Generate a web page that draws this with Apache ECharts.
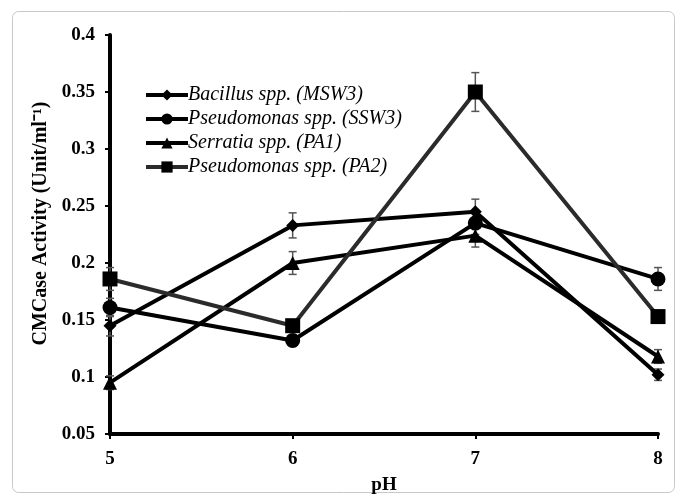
<!DOCTYPE html>
<html>
<head>
<meta charset="utf-8">
<script src="https://cdn.jsdelivr.net/npm/echarts@6/dist/echarts.min.js"></script>
<style>
  html, body { margin: 0; padding: 0; background: #fff; }
  #chart { width: 681px; height: 498px; }
</style>
</head>
<body>
<div id="chart"></div>
<script>
// pH values on the x axis
var phValues = [5, 6, 7, 8]
var yTicks = [0.05, 0.1, 0.15, 0.2, 0.25, 0.3, 0.35, 0.4]

// CMCase activity
var bacillus = [0.145, 0.233, 0.245, 0.102]
var pseudoSSW3 = [0.161, 0.132, 0.235, 0.186]
var serratia = [0.095, 0.2, 0.224, 0.118]
var pseudoPA2 = [0.186, 0.145, 0.35, 0.153]

// error bar half-widths
var bacillusErr = [0.009, 0.011, 0.011, 0.005]
var pseudoSSW3Err = [0.008, 0.005, 0.01, 0.01]
var serratiaErr = [0.006, 0.01, 0.01, 0.006]
var pseudoPA2Err = [0.01, 0.005, 0.017, 0.005]

var seriesNames = [
  'Bacillus spp. (MSW3)',
  'Pseudomonas spp. (SSW3)',
  'Serratia spp. (PA1)',
  'Pseudomonas spp. (PA2)'
]
var seriesValues = [bacillus, pseudoSSW3, serratia, pseudoPA2]
var seriesErrors = [bacillusErr, pseudoSSW3Err, serratiaErr, pseudoPA2Err]
var symbols = ['diamond', 'circle', 'triangle', 'rect']
var symbolSizes = [13, 15, 14, 15]
var lineColors = ['#000', '#000', '#000', '#2b2b2b']

var font = '"Liberation Serif", "Times New Roman", serif'

var myChart = echarts.init(document.getElementById('chart'))

var series = []
seriesValues.forEach(function (vals, i) {
  var errData = vals.map(function (v, j) {
    return [phValues[j], v - seriesErrors[i][j], v + seriesErrors[i][j]]
  })
  // 误差线
  series.push({
    type: 'custom',
    name: seriesNames[i] + ' err',
    silent: true,
    z: 1,
    data: errData,
    renderItem: function (params, api) {
      var lo = api.coord([api.value(0), api.value(1)])
      var hi = api.coord([api.value(0), api.value(2)])
      var w = 4
      var style = { stroke: '#555', lineWidth: 1.5 }
      return {
        type: 'group',
        children: [
          { type: 'line', shape: { x1: lo[0], y1: lo[1], x2: hi[0], y2: hi[1] }, style: style },
          { type: 'line', shape: { x1: lo[0] - w, y1: lo[1], x2: lo[0] + w, y2: lo[1] }, style: style },
          { type: 'line', shape: { x1: hi[0] - w, y1: hi[1], x2: hi[0] + w, y2: hi[1] }, style: style }
        ]
      }
    }
  })
  series.push({
    type: 'line',
    name: seriesNames[i],
    z: 2,
    data: vals.map(function (v, j) { return [phValues[j], v] }),
    symbol: symbols[i],
    symbolSize: symbolSizes[i],
    showAllSymbol: true,
    lineStyle: { color: lineColors[i], width: 4 },
    itemStyle: { color: '#000', opacity: 1 }
  })
})

myChart.setOption({
  animation: false,
  graphic: [{
    type: 'rect',
    left: 10,
    top: 9,
    shape: { width: 662, height: 481, r: 6 },
    style: { fill: 'none', stroke: '#c8c8c8', lineWidth: 1 },
    z: -1
  }],
  grid: { left: 110, right: 23, top: 35, bottom: 64, outerBoundsMode: 'none' },
  legend: {
    data: seriesNames,
    orient: 'vertical',
    left: 139,
    top: 80,
    itemWidth: 42,
    itemHeight: 14,
    itemGap: 4,
    lineStyle: { width: 4 },
    textStyle: {
      fontFamily: font, fontStyle: 'italic', fontSize: 20, lineHeight: 20,
      color: '#000', padding: [0, 0, 0, -5]
    }
  },
  xAxis: {
    type: 'value',
    min: 5,
    max: 8,
    interval: 1,
    name: 'pH',
    nameLocation: 'middle',
    nameGap: 42,
    nameTextStyle: { fontFamily: font, fontWeight: 'bold', fontSize: 19, color: '#000' },
    axisLine: { lineStyle: { color: '#000', width: 4 } },
    axisTick: { show: true, length: 5, lineStyle: { color: '#000', width: 2 } },
    axisLabel: { fontFamily: font, fontWeight: 'bold', fontSize: 19, color: '#000', margin: 16 },
    splitLine: { show: false }
  },
  yAxis: {
    type: 'value',
    min: yTicks[0],
    max: yTicks[yTicks.length - 1],
    interval: 0.05,
    name: 'CMCase Activity (Unit/ml⁻¹)',
    nameLocation: 'middle',
    nameGap: 56,
    nameTextStyle: {
      fontFamily: font, fontWeight: 'bold', fontSize: 20, color: '#000',
      padding: [0, 0, 0, 22]
    },
    axisLine: { show: true, lineStyle: { color: '#000', width: 4 } },
    axisTick: { show: true, length: 5, lineStyle: { color: '#000', width: 2 } },
    axisLabel: {
      fontFamily: font, fontWeight: 'bold', fontSize: 19, color: '#000', margin: 15,
      formatter: function (v) { return String(+v.toFixed(2)) }
    },
    splitLine: { show: false }
  },
  series: series
})
</script>
</body>
</html>
